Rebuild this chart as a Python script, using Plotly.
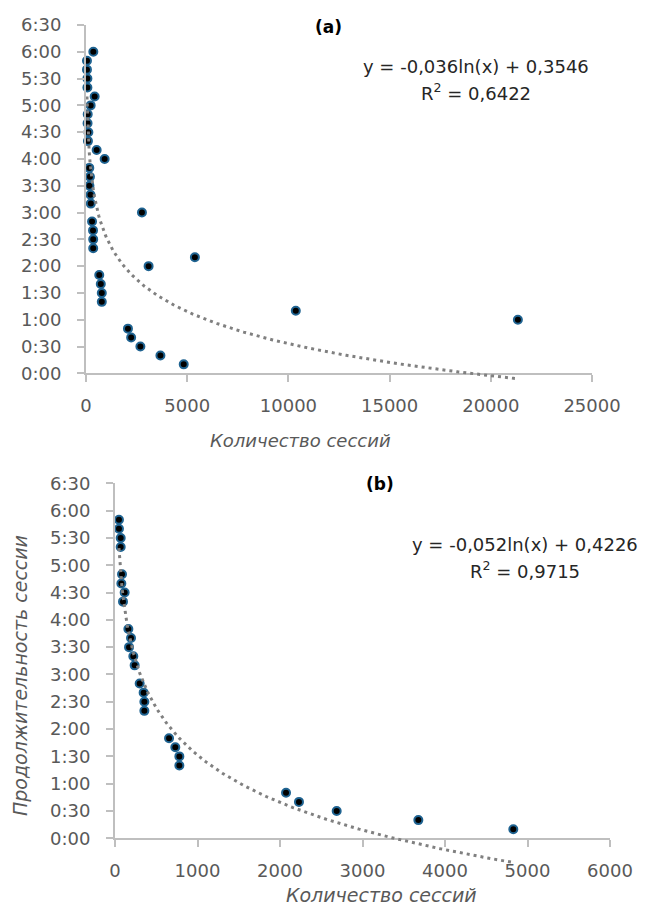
import numpy as np
import plotly.graph_objects as go

W, H = 645, 908

# ---- data (session count, session duration h:mm) ----
b_sessions = [48, 48, 69, 69, 85, 77, 117, 97, 162, 194, 170, 222, 238,
              299, 347, 356, 356, 655, 731, 780, 780, 2073, 2230, 2687, 3677, 4828]
b_durations = ["5:50", "5:40", "5:30", "5:20", "4:50", "4:40", "4:30", "4:20",
               "3:50", "3:40", "3:30", "3:20", "3:10", "2:50", "2:40", "2:30",
               "2:20", "1:50", "1:40", "1:30", "1:20", "0:50", "0:40", "0:30",
               "0:20", "0:10"]
a_extra_sessions = [362, 428, 230, 526, 921, 2764, 3093, 5380, 10365, 21338]
a_extra_durations = ["6:00", "5:10", "5:00", "4:10", "4:00", "3:00", "2:00",
                     "2:10", "1:10", "1:00"]
a_sessions = b_sessions + a_extra_sessions
a_durations = b_durations + a_extra_durations

y_tick_labels = ["0:00", "0:30", "1:00", "1:30", "2:00", "2:30", "3:00",
                 "3:30", "4:00", "4:30", "5:00", "5:30", "6:00", "6:30"]
a_x_ticks = [0, 5000, 10000, 15000, 20000, 25000]
b_x_ticks = [0, 1000, 2000, 3000, 4000, 5000, 6000]

trend_a = (-0.036, 0.3546)   # y = k ln(x) + c  (fraction of a day)
trend_b = (-0.052, 0.4226)
eq_a = ["y = -0,036ln(x) + 0,3546", "R<sup>2</sup> = 0,6422"]
eq_b = ["y = -0,052ln(x) + 0,4226", "R<sup>2</sup> = 0,9715"]


def to_hours(s):
    h, m = s.split(":")
    return int(h) + int(m) / 60.0


def y_tick_vals():
    return [to_hours(t) for t in y_tick_labels]


FONT = "DejaVu Sans"
GREY = "#595959"
AXC = "#bfbfbf"

fig = go.Figure()

panels = [
    dict(xs=a_sessions, ds=a_durations, coef=trend_a, xt=a_x_ticks,
         x0=86, x1=592, ytop=25, ybot=373.3, ext=20, sx=""),
    dict(xs=b_sessions, ds=b_durations, coef=trend_b, xt=b_x_ticks,
         x0=115, x1=610, ytop=483.3, ybot=838.3, ext=45, sx="2"),
]

layout = dict(width=W, height=H,
              margin=dict(l=0, r=0, t=0, b=0, autoexpand=False),
              template="none",
              paper_bgcolor="white", plot_bgcolor="rgba(0,0,0,0)",
              showlegend=False, font=dict(family=FONT, color=GREY))

for i, p in enumerate(panels):
    main_x = "x" + p["sx"]
    main_y = "y" + p["sx"]
    tr_idx = "3" if i == 0 else "4"
    xd = [p["x0"] / W, p["x1"] / W]
    yd = [1 - p["ybot"] / H, 1 - p["ytop"] / H]
    ymax = y_tick_vals()[-1]
    pph = (p["ybot"] - p["ytop"]) / ymax
    yd_tr = [1 - (p["ybot"] + p["ext"]) / H, 1 - p["ytop"] / H]

    xs_arr = np.array(p["xs"], dtype=float)
    tx = np.linspace(xs_arr.min(), xs_arr.max(), 400)
    ty = 24 * (p["coef"][0] * np.log(tx) + p["coef"][1])

    fig.add_trace(go.Scatter(
        x=p["xs"], y=[to_hours(d) for d in p["ds"]], mode="markers",
        marker=dict(size=8, color="black", line=dict(color="#1f6391", width=2)),
        xaxis=main_x, yaxis=main_y, cliponaxis=False))
    fig.add_trace(go.Scatter(
        x=tx, y=ty, mode="lines",
        line=dict(color="#808080", width=3, dash="3px,4px"),
        xaxis="x" + tr_idx, yaxis="y" + tr_idx))

    xkey = "xaxis" + p["sx"]
    ykey = "yaxis" + p["sx"]
    layout[xkey] = dict(domain=xd, range=[0, p["xt"][-1]], anchor=main_y,
                        tickmode="array",
                        tickvals=p["xt"], ticktext=[str(v) for v in p["xt"]],
                        showline=True, linecolor=AXC, linewidth=2,
                        ticks="outside", ticklen=7, tickcolor=AXC, tickwidth=1.5,
                        showgrid=False, zeroline=False, ticklabelstandoff=8,
                        automargin=False,
                        tickfont=dict(family=FONT, size=18, color=GREY))
    layout[ykey] = dict(domain=yd, range=[0, ymax], anchor=main_x,
                        tickmode="array",
                        tickvals=y_tick_vals(), ticktext=y_tick_labels,
                        showline=True, linecolor=AXC, linewidth=2,
                        ticks="outside", ticklen=7, tickcolor=AXC, tickwidth=1.5,
                        showgrid=False, zeroline=False, ticklabelstandoff=12,
                        automargin=False,
                        tickfont=dict(family=FONT, size=18, color=GREY))
    layout["xaxis" + tr_idx] = dict(domain=xd, range=[0, p["xt"][-1]],
                                    anchor="y" + tr_idx, visible=False,
                                    automargin=False)
    layout["yaxis" + tr_idx] = dict(domain=yd_tr, range=[-p["ext"] / pph, ymax],
                                    anchor="x" + tr_idx, visible=False,
                                    automargin=False)


def ann(text, px, py, size, color="black", bold=False, italic=False, angle=0):
    if bold:
        text = "<b>" + text + "</b>"
    if italic:
        text = "<i>" + text + "</i>"
    return dict(text=text, x=px / W, y=1 - py / H, xref="paper", yref="paper",
                xanchor="center", yanchor="middle", showarrow=False,
                textangle=angle,
                font=dict(family=FONT, size=size, color=color))


annotations = [
    ann("(a)", 329, 27, 17, bold=True),
    ann(eq_a[0], 476, 66, 18, color="#262626"),
    ann(eq_a[1], 476, 92, 18, color="#262626"),
    ann("Количество сессий", 300, 440, 18, color=GREY, italic=True),
    ann("(b)", 380, 484, 17, bold=True),
    ann(eq_b[0], 525, 544, 18, color="#262626"),
    ann(eq_b[1], 525, 570, 18, color="#262626"),
    ann("Количество сессий", 381, 895, 19, color=GREY, italic=True),
    ann("Продолжительность сессии", 20, 676, 19, color=GREY, italic=True, angle=-90),
]
layout["annotations"] = annotations

fig.update_layout(**layout)
fig.write_html(
    "out.html",
    config={"displayModeBar": False},
    post_script="document.body.style.margin='0';document.body.style.overflow='hidden';",
)
